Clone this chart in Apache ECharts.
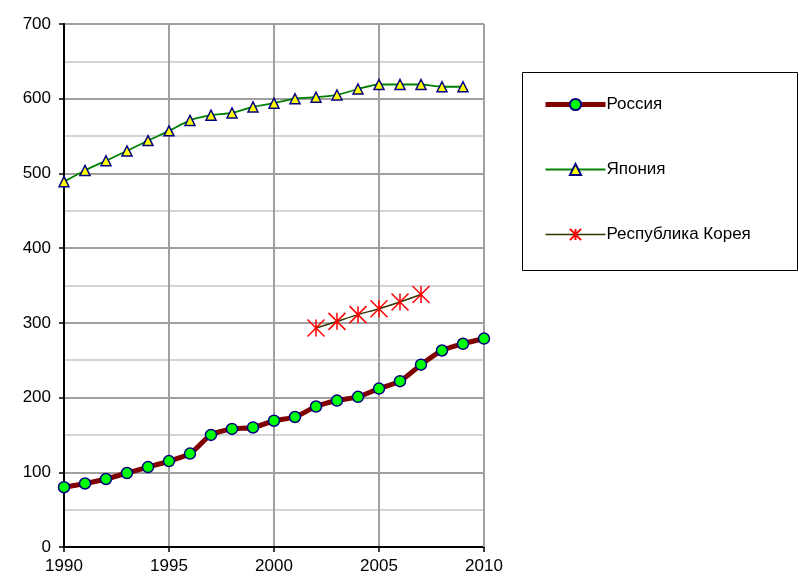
<!DOCTYPE html>
<html>
<head>
<meta charset="utf-8">
<script src="https://cdn.jsdelivr.net/npm/echarts@6/dist/echarts.min.js"></script>
<style>
html,body{margin:0;padding:0;background:#fff;}
#c{width:799px;height:583px;}
</style>
</head>
<body>
<div id="c"></div>
<script>
const seriesNames = ['Россия', 'Япония', 'Республика Корея'];
const russiaYears = [1990,1991,1992,1993,1994,1995,1996,1997,1998,1999,2000,2001,2002,2003,2004,2005,2006,2007,2008,2009,2010];
const russiaValues = [80,85,91,99,107,115,125,150,158,160,169,174,188,196,201,212,222,244,263,272,279];
const japanYears = [1990,1991,1992,1993,1994,1995,1996,1997,1998,1999,2000,2001,2002,2003,2004,2005,2006,2007,2008,2009];
const japanValues = [489,504,517,530,544,557,571,578,581,589,594,600,602,605,613,619,619,619,616,616];
const koreaYears = [2002,2003,2004,2005,2006,2007];
const koreaValues = [293,302,311,319,328,338];
const xTicks = [1990,1995,2000,2005,2010];
const yTicks = [0,100,200,300,400,500,600,700];

const pairs = (xs, ys) => xs.map((x, i) => [x, ys[i]]);
const FONT = 'Liberation Sans, Arial, sans-serif';
const star = 'path://M0,-10L0,10M-10,-10L10,10M-10,10L10,-10';

const chart = echarts.init(document.getElementById('c'), null, {renderer: 'canvas'});
chart.setOption({
  animation: false,
  backgroundColor: '#ffffff',
  grid: {left: 64, top: 24, right: 315, bottom: 36, show: false},
  xAxis: {
    type: 'value', min: xTicks[0], max: xTicks[xTicks.length - 1], interval: 5,
    axisLine: {show: true, onZero: false, lineStyle: {color: '#000', width: 2}},
    axisTick: {show: true, inside: false, length: 5, lineStyle: {color: '#000', width: 1.5}},
    axisLabel: {color: '#000', fontSize: 17, fontFamily: FONT, margin: 11, formatter: v => String(v)},
    splitLine: {show: true, lineStyle: {color: '#a0a0a0', width: 2}}
  },
  yAxis: {
    type: 'value', min: yTicks[0], max: yTicks[yTicks.length - 1], interval: 100,
    axisLine: {show: true, lineStyle: {color: '#000', width: 2}},
    axisTick: {show: true, inside: false, length: 5, lineStyle: {color: '#000', width: 1.5}},
    axisLabel: {color: '#000', fontSize: 17, fontFamily: FONT, margin: 13, formatter: v => String(v)},
    splitLine: {show: true, lineStyle: {color: '#a0a0a0', width: 2}},
    minorTick: {show: false, splitNumber: 2},
    minorSplitLine: {show: true, lineStyle: {color: '#d4d4d4', width: 2}}
  },
  legend: {
    orient: 'vertical', left: 538, top: 91, itemWidth: 60, itemHeight: 14, itemGap: 48,
    textStyle: {color: '#000', fontSize: 17, fontFamily: FONT, padding: [0, 0, 0, -4]},
    data: [
      {name: seriesNames[0], lineStyle: {width: 5}},
      {name: seriesNames[1], lineStyle: {width: 1.8}},
      {name: seriesNames[2], lineStyle: {width: 1.5}}
    ]
  },
  graphic: [{
    type: 'rect', shape: {x: 522.5, y: 72.5, width: 275, height: 198},
    style: {fill: 'none', stroke: '#000', lineWidth: 1}, z: -1
  }, {
    type: 'line', shape: {x1: 484, y1: 24, x2: 484, y2: 547},
    style: {stroke: '#a0a0a0', lineWidth: 2}, z: 1
  }],
  series: [{
    name: seriesNames[0], type: 'line', smooth: 0.25, data: pairs(russiaYears, russiaValues),
    symbol: 'circle', symbolSize: 11,
    lineStyle: {color: '#800000', width: 5},
    itemStyle: {color: '#00ff00', borderColor: '#000080', borderWidth: 1.5},
    z: 3
  }, {
    name: seriesNames[1], type: 'line', smooth: 0.25, data: pairs(japanYears, japanValues),
    symbol: 'triangle', symbolSize: 10,
    lineStyle: {color: '#008000', width: 1.8},
    itemStyle: {color: '#ffff00', borderColor: '#000080', borderWidth: 1.5},
    z: 3
  }, {
    name: seriesNames[2], type: 'line', smooth: 0.25, data: pairs(koreaYears, koreaValues),
    symbol: star, symbolSize: [17, 17],
    lineStyle: {color: '#333300', width: 1.5},
    itemStyle: {color: 'rgba(0,0,0,0)', borderColor: '#ff0000', borderWidth: 1.5},
    z: 3
  }]
});
</script>
</body>
</html>
